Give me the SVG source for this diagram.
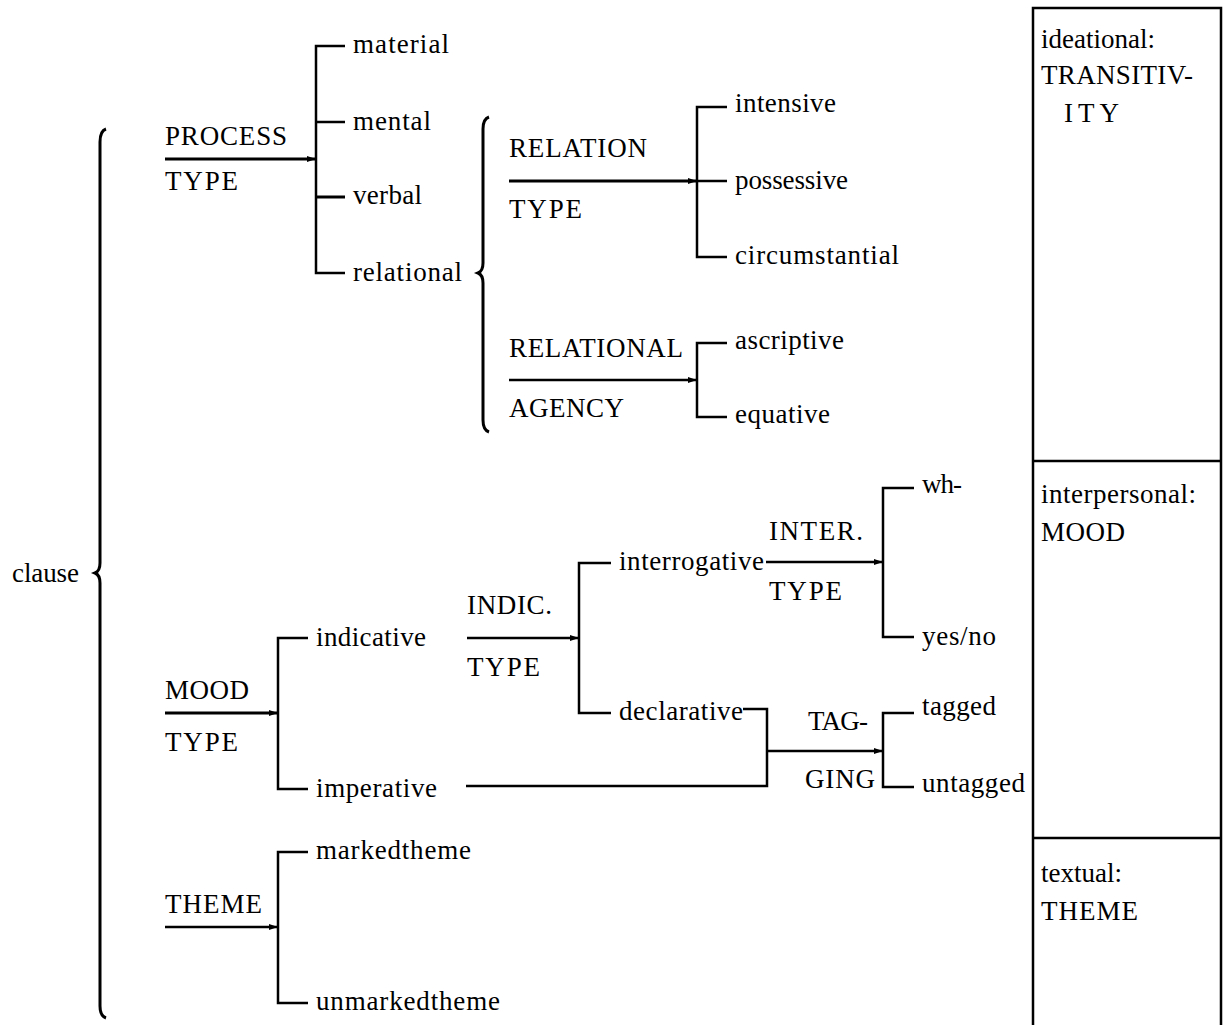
<svg xmlns="http://www.w3.org/2000/svg" width="1228" height="1025" viewBox="0 0 1228 1025">
<defs>
<style>
text{font-family:'Liberation Serif','Times New Roman',serif;font-size:27px;fill:#000}
.ln{fill:none;stroke:#000;stroke-width:2.5;stroke-linecap:butt}
.th{stroke-width:3}
.br{fill:none;stroke:#000;stroke-width:3}
</style>
<marker id="ah" markerUnits="userSpaceOnUse" markerWidth="10" markerHeight="8" refX="9" refY="3" orient="auto"><path d="M0,0 L9,3 L0,6 z" fill="#000"/></marker>
</defs>
<rect width="1228" height="1025" fill="#fff"/>

<g id="connectors">
<path class="br" d="M106,129 Q100,131 100,142 L100,563 Q100,571 95,573 Q100,575 100,583 L100,1006 Q100,1016 106,1018"/>
<path class="br" d="M489,117 Q483,119 483,129 L483,263 Q483,271 478,273 Q483,275 483,283 L483,420 Q483,430 489,432"/>
<line class="ln th" x1="165" y1="159" x2="316" y2="159" marker-end="url(#ah)"/>
<path class="ln" d="M345,46 H316 V273 H345 M316,122 H345"/>
<line class="ln th" x1="316" y1="197" x2="345" y2="197"/>
<line class="ln th" x1="509" y1="181" x2="697" y2="181" marker-end="url(#ah)"/>
<path class="ln" d="M727,107 H697 V257 H727 M697,181 H727"/>
<line class="ln" x1="509" y1="380" x2="697" y2="380" marker-end="url(#ah)"/>
<path class="ln" d="M727,343 H697 V417 H727"/>
<line class="ln th" x1="165" y1="713" x2="278" y2="713" marker-end="url(#ah)"/>
<path class="ln" d="M308,638 H278 V789 H308"/>
<line class="ln" x1="165" y1="927" x2="278" y2="927" marker-end="url(#ah)"/>
<path class="ln" d="M308,852 H278 V1003 H308"/>
<line class="ln" x1="467" y1="638" x2="579" y2="638" marker-end="url(#ah)"/>
<path class="ln" d="M611,563 H579 V713 H611"/>
<line class="ln" x1="766" y1="562" x2="883" y2="562" marker-end="url(#ah)"/>
<path class="ln" d="M914,488 H883 V637 H914"/>
<path class="ln" d="M743,709 H767 V786 H466"/>
<line class="ln" x1="767" y1="751" x2="883" y2="751" marker-end="url(#ah)"/>
<path class="ln" d="M914,713 H883 V787 H914"/>
</g>

<g id="box">
<path class="ln" d="M1033,1025 V8 H1221 V1025 M1033,461 H1221 M1033,838 H1221"/>
</g>

<g id="clause"><text x="12" y="582" textLength="67" lengthAdjust="spacing">clause</text></g>
<g id="process-type"><text x="165" y="145" textLength="122" lengthAdjust="spacing">PROCESS</text><text x="165" y="190" textLength="73" lengthAdjust="spacing">TYPE</text></g>
<g id="material"><text x="353" y="53" textLength="96" lengthAdjust="spacing">material</text></g>
<g id="mental"><text x="353" y="130" textLength="78" lengthAdjust="spacing">mental</text></g>
<g id="verbal"><text x="353" y="204" textLength="69" lengthAdjust="spacing">verbal</text></g>
<g id="relational"><text x="353" y="281" textLength="109" lengthAdjust="spacing">relational</text></g>
<g id="relation-type"><text x="509" y="157" textLength="138" lengthAdjust="spacing">RELATION</text><text x="509" y="218" textLength="73" lengthAdjust="spacing">TYPE</text></g>
<g id="intensive"><text x="735" y="112" textLength="101" lengthAdjust="spacing">intensive</text></g>
<g id="possessive"><text x="735" y="189" textLength="113" lengthAdjust="spacing">possessive</text></g>
<g id="circumstantial"><text x="735" y="264" textLength="164" lengthAdjust="spacing">circumstantial</text></g>
<g id="relational-agency"><text x="509" y="357" textLength="174" lengthAdjust="spacing">RELATIONAL</text><text x="509" y="417" textLength="115" lengthAdjust="spacing">AGENCY</text></g>
<g id="ascriptive"><text x="735" y="349" textLength="109" lengthAdjust="spacing">ascriptive</text></g>
<g id="equative"><text x="735" y="423" textLength="95" lengthAdjust="spacing">equative</text></g>
<g id="mood-type"><text x="165" y="699" textLength="84" lengthAdjust="spacing">MOOD</text><text x="165" y="751" textLength="73" lengthAdjust="spacing">TYPE</text></g>
<g id="indicative"><text x="316" y="646" textLength="110" lengthAdjust="spacing">indicative</text></g>
<g id="imperative"><text x="316" y="797" textLength="121" lengthAdjust="spacing">imperative</text></g>
<g id="indic-type"><text x="467" y="614" textLength="85" lengthAdjust="spacing">INDIC.</text><text x="467" y="676" textLength="73" lengthAdjust="spacing">TYPE</text></g>
<g id="interrogative"><text x="619" y="570" textLength="145" lengthAdjust="spacing">interrogative</text></g>
<g id="declarative"><text x="619" y="720" textLength="124" lengthAdjust="spacing">declarative</text></g>
<g id="inter-type"><text x="769" y="540" textLength="94" lengthAdjust="spacing">INTER.</text><text x="769" y="600" textLength="73" lengthAdjust="spacing">TYPE</text></g>
<g id="wh"><text x="922" y="493" textLength="40" lengthAdjust="spacing">wh-</text></g>
<g id="yesno"><text x="922" y="645" textLength="74" lengthAdjust="spacing">yes/no</text></g>
<g id="tagging"><text x="808" y="730" textLength="60" lengthAdjust="spacing">TAG-</text><text x="805" y="788" textLength="70" lengthAdjust="spacing">GING</text></g>
<g id="tagged"><text x="922" y="715" textLength="74" lengthAdjust="spacing">tagged</text></g>
<g id="untagged"><text x="922" y="792" textLength="103" lengthAdjust="spacing">untagged</text></g>
<g id="theme"><text x="165" y="913" textLength="97" lengthAdjust="spacing">THEME</text></g>
<g id="markedtheme"><text x="316" y="859" textLength="155" lengthAdjust="spacing">markedtheme</text></g>
<g id="unmarkedtheme"><text x="316" y="1010" textLength="184" lengthAdjust="spacing">unmarkedtheme</text></g>
<g id="ideational"><text x="1041" y="48">ideational:</text><text x="1041" y="84" textLength="152" lengthAdjust="spacing">TRANSITIV-</text><text x="1064" y="122" textLength="55" lengthAdjust="spacing">ITY</text></g>
<g id="interpersonal"><text x="1041" y="503" textLength="155" lengthAdjust="spacing">interpersonal:</text><text x="1041" y="541" textLength="84" lengthAdjust="spacing">MOOD</text></g>
<g id="textual"><text x="1041" y="882">textual:</text><text x="1041" y="920" textLength="97" lengthAdjust="spacing">THEME</text></g>
</svg>
